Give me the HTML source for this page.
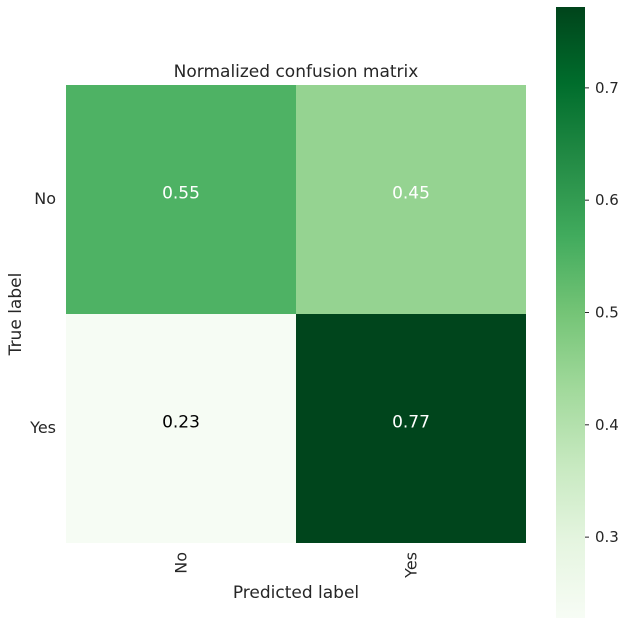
<!DOCTYPE html>
<html><head><meta charset="utf-8"><style>
body{margin:0;background:#fff;}
svg text{font-family:"DejaVu Sans","Liberation Sans",sans-serif;fill:#262626;}
</style></head><body>
<svg id="chart" width="626" height="626" viewBox="0 0 626 626" xmlns="http://www.w3.org/2000/svg">
<defs><linearGradient id="cbg" x1="0" y1="1" x2="0" y2="0"></linearGradient></defs>
<text x="296" y="77" font-size="17" text-anchor="middle">Normalized confusion matrix</text>
<g id="cells"></g>
<g id="axes"></g>
<rect x="556" y="7" width="29" height="611" fill="url(#cbg)"/>
<g id="cbticks"></g>
<text x="296" y="598" font-size="17" text-anchor="middle">Predicted label</text>
<text x="0" y="0" font-size="17" text-anchor="middle" transform="translate(21,314) rotate(-90)">True label</text>
</svg>
<script>
const classes = ["No","Yes"];
const values = [[0.55,0.45],[0.23,0.77]];
const cbTicks = [0.3,0.4,0.5,0.6,0.7];
const vmin = 0.228, vmax = 0.772;
const greens = ["#f7fcf5","#e5f5e0","#c7e9c0","#a1d99b","#74c476","#41ab5d","#238b45","#006d2c","#00441b"];
const NS="http://www.w3.org/2000/svg";
const x0=66,y0=85,cell=229;
function hex(h){return [1,3,5].map(i=>parseInt(h.substr(i,2),16));}
function cmap(v){let t=Math.max(0,Math.min(1,(v-vmin)/(vmax-vmin)))*8;let i=Math.min(7,Math.floor(t)),f=t-i;
 const a=hex(greens[i]),b=hex(greens[i+1]);return "rgb("+a.map((c,k)=>Math.round(c+(b[k]-c)*f)).join(",")+")";}
function el(tag,attrs,txt){const e=document.createElementNS(NS,tag);for(const k in attrs)e.setAttribute(k,attrs[k]);if(txt!==undefined)e.textContent=txt;return e;}
const g=document.getElementById("cells");
values.forEach((row,r)=>row.forEach((v,c)=>{
 const rc=el("rect",{x:x0+c*230,y:y0+r*cell,width:230,height:cell,fill:cmap(v)});
 
 
 g.appendChild(rc);
 const t=el("text",{x:x0+c*230+115,y:y0+r*cell+cell/2-6,"font-size":17,"text-anchor":"middle","dominant-baseline":"central"},v.toFixed(2));
 t.style.fill=v>0.3?"#fff":"#000";
 
 
 g.appendChild(t);
}));
const ax=document.getElementById("axes");
classes.forEach((c,i)=>{
 const ty=el("text",{x:56,y:y0+i*cell+cell/2-1,"font-size":16,"text-anchor":"end","dominant-baseline":"central"},c);
 
 
 ax.appendChild(ty);
 const cx=x0+i*230+115;
 const tx=el("text",{"font-size":16,"text-anchor":"end","dominant-baseline":"central",transform:"translate("+cx+",552) rotate(-90)"},c);
 
 
 ax.appendChild(tx);
});
const grad=document.getElementById("cbg");
greens.forEach((col,i)=>grad.appendChild(el("stop",{offset:(i/8),"stop-color":col})));
const cbTop=7,cbBot=618;
const cb=document.getElementById("cbticks");
cbTicks.forEach(v=>{
 const y=cbBot-(v-vmin)/(vmax-vmin)*(cbBot-cbTop);
 const l=el("line",{x1:585,x2:589,y1:y,y2:y,stroke:"#262626","stroke-width":1});
 
 
 cb.appendChild(l);
 const t=el("text",{x:595,y:y,"font-size":15,"dominant-baseline":"central"},v.toFixed(1));
 
 
 cb.appendChild(t);
});
</script>
</body></html>
